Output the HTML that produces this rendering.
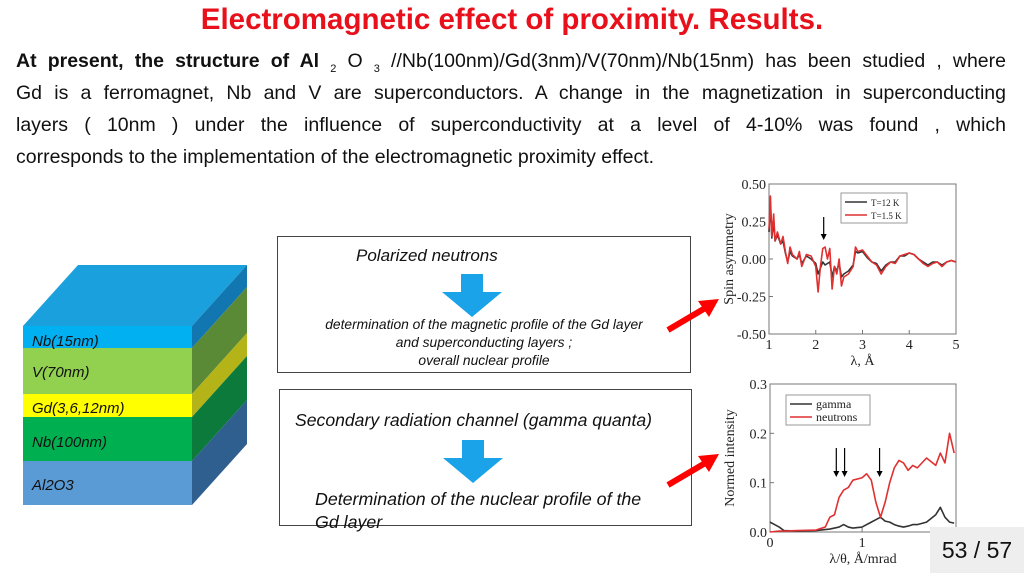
<!DOCTYPE html>
<html><head><meta charset="utf-8">
<style>
body{margin:0;width:1024px;height:574px;background:#fff;position:relative;overflow:hidden;font-family:"Liberation Sans",sans-serif;}
.abs{position:absolute;}
#title{left:0;width:1024px;top:3px;text-align:center;color:#e8101a;font-weight:bold;font-size:29.5px;}
.pl{position:absolute;left:16px;width:990px;font-size:19.5px;line-height:22px;text-align:justify;text-align-last:justify;color:#111;white-space:nowrap;}
.pl.last{text-align-last:left;}
sub{font-size:11px;line-height:0;vertical-align:baseline;position:relative;top:5px;}
.box{border:1px solid #444;}
.it{font-style:italic;color:#111;}
</style></head><body>
<div id="title" class="abs">Electromagnetic effect of proximity. Results.</div>
<div>
<div class="pl" style="top:50px"><b>At present, the structure of Al</b> <sub>2</sub> O <sub>3</sub> //Nb(100nm)/Gd(3nm)/V(70nm)/Nb(15nm) has been studied , where</div>
<div class="pl" style="top:82px">Gd is a ferromagnet, Nb and V are superconductors. A change in the magnetization in superconducting</div>
<div class="pl" style="top:114px">layers ( 10nm ) under the influence of superconductivity at a level of 4-10% was found , which</div>
<div class="pl last" style="top:146px">corresponds to the implementation of the electromagnetic proximity effect.</div>
</div>

<svg class="abs" style="left:0;top:250px" width="260" height="270">
<polygon points="23,76 78,15 247,15 192,76" fill="#1aa0dc"/>
<polygon points="192,76 247,15 247,37 192,98" fill="#1277b0"/>
<polygon points="192,98 247,37 247,83 192,144" fill="#5a8a35"/>
<polygon points="192,144 247,83 247,106 192,167" fill="#b4b418"/>
<polygon points="192,167 247,106 247,150 192,211" fill="#0b7a3a"/>
<polygon points="192,211 247,150 247,194 192,255" fill="#2f5f8f"/>
<rect x="23" y="76" width="169" height="22" fill="#00b0f0"/>
<rect x="23" y="98" width="169" height="46" fill="#92d050"/>
<rect x="23" y="144" width="169" height="23" fill="#ffff00"/>
<rect x="23" y="167" width="169" height="44" fill="#00b050"/>
<rect x="23" y="211" width="169" height="44" fill="#5b9bd5"/>
<g font-style="italic" font-size="15" fill="#111">
<text x="32" y="96">Nb(15nm)</text>
<text x="32" y="127">V(70nm)</text>
<text x="32" y="163">Gd(3,6,12nm)</text>
<text x="32" y="197">Nb(100nm)</text>
<text x="32" y="240">Al2O3</text>
</g></svg>

<div class="abs box" style="left:277px;top:236px;width:412px;height:135px">
<div class="abs it" style="left:78px;top:9px;font-size:17px">Polarized neutrons</div>
<svg class="abs" style="left:163px;top:37px" width="62" height="45"><polygon points="20,0 42,0 42,18 61,18 31,43 1,18 20,18" fill="#1aa3e8"/></svg>
<div class="abs it" style="left:0;width:412px;top:79px;font-size:13.8px;line-height:18px;text-align:center">determination of the magnetic profile of the Gd layer<br>and superconducting layers ;<br>overall nuclear profile</div>
</div>
<div class="abs box" style="left:279px;top:389px;width:411px;height:135px">
<div class="abs it" style="left:15px;top:20px;font-size:17.6px">Secondary radiation channel (gamma quanta)</div>
<svg class="abs" style="left:162px;top:50px" width="62" height="45"><polygon points="20,0 42,0 42,18 61,18 31,43 1,18 20,18" fill="#1aa3e8"/></svg>
<div class="abs it" style="left:35px;top:98px;font-size:17.8px;line-height:23px;white-space:nowrap">Determination of the nuclear profile of the<br>Gd layer</div>
</div>
<svg class="abs" style="left:665px;top:295px" width="60" height="45"><line x1="3" y1="35" x2="42" y2="12" stroke="#f00" stroke-width="6"/><polygon points="54,4 33,6 44,22" fill="#f00"/></svg>
<svg class="abs" style="left:665px;top:450px" width="60" height="45"><line x1="3" y1="35" x2="42" y2="12" stroke="#f00" stroke-width="6"/><polygon points="54,4 33,6 44,22" fill="#f00"/></svg>

<svg id="c1" class="abs" style="left:0;top:0" width="1024" height="574"></svg>

<div class="abs" style="left:930px;top:527px;width:94px;height:46px;background:#eee;font-size:23px;line-height:46px;text-align:center;color:#111">53 / 57</div>

<script>
const saX=[1.0,1.03,1.06,1.1,1.13,1.18,1.25,1.3,1.35,1.4,1.45,1.5,1.6,1.65,1.7,1.8,1.9,2.0,2.05,2.1,2.15,2.2,2.25,2.3,2.35,2.4,2.45,2.5,2.55,2.6,2.7,2.8,2.85,2.9,3.0,3.1,3.2,3.3,3.4,3.5,3.6,3.7,3.8,3.9,4.0,4.1,4.2,4.3,4.4,4.5,4.6,4.7,4.8,4.9,5.0];
const saRed=[0.2,0.42,0.15,0.3,0.12,0.18,0.1,0.15,0.05,-0.03,0.08,0.03,0.0,0.05,-0.05,0.03,0.02,-0.05,-0.22,-0.05,0.07,0.08,0.0,0.07,-0.2,-0.05,-0.1,0.0,-0.18,-0.12,-0.1,-0.05,0.08,0.05,0.06,0.02,-0.02,-0.04,-0.1,-0.05,-0.02,-0.03,0.02,0.03,0.04,0.03,0.0,-0.03,-0.05,-0.03,-0.02,-0.05,-0.02,-0.01,-0.02];
const saBlack=[0.18,0.38,0.14,0.25,0.12,0.16,0.1,0.12,0.04,-0.02,0.05,0.02,0.0,0.03,-0.03,0.02,0.0,-0.03,-0.1,-0.06,-0.02,-0.04,-0.03,-0.02,-0.12,-0.05,-0.08,-0.03,-0.12,-0.1,-0.08,-0.04,0.05,0.04,0.05,0.01,-0.02,-0.03,-0.08,-0.04,-0.02,-0.02,0.02,0.02,0.04,0.03,0.0,-0.02,-0.04,-0.02,-0.02,-0.04,-0.02,-0.01,-0.02];
const saXTicks=[1,2,3,4,5];
const saYTicks=["0.50","0.25","0.00","-0.25","-0.50"];
const niX=[0,0.05,0.1,0.15,0.3,0.5,0.6,0.65,0.7,0.75,0.8,0.85,0.9,1.0,1.05,1.1,1.15,1.2,1.25,1.3,1.35,1.4,1.45,1.5,1.55,1.6,1.7,1.8,1.85,1.9,1.95,2.0];
const niNeutrons=[0.0,0.001,0.002,0.002,0.003,0.004,0.01,0.03,0.035,0.07,0.085,0.09,0.105,0.11,0.118,0.105,0.06,0.03,0.06,0.1,0.13,0.145,0.14,0.125,0.135,0.13,0.15,0.135,0.16,0.14,0.2,0.16];
const niGamma=[0.02,0.015,0.01,0.003,0.002,0.003,0.005,0.006,0.008,0.01,0.015,0.01,0.008,0.01,0.015,0.02,0.025,0.03,0.022,0.02,0.015,0.012,0.01,0.012,0.015,0.015,0.02,0.035,0.05,0.03,0.02,0.018];
const niXTicks=[0,1];
const niYTicks=["0.3","0.2","0.1","0.0"];
const svg=document.getElementById('c1');
const NS='http://www.w3.org/2000/svg';
function mk(t,a){const e=document.createElementNS(NS,t);for(const k in a)e.setAttribute(k,a[k]);svg.appendChild(e);return e;}
function chart(L,R,T,B,x0,x1,y0,y1,xs,series,xt,yt,xlab,ylab,name){
 const sx=v=>L+(v-x0)/(x1-x0)*(R-L), sy=v=>B-(v-y0)/(y1-y0)*(B-T);
 let f=mk('rect',{x:L,y:T,width:R-L,height:B-T,fill:'none',stroke:'#777','stroke-width':1});
 
 
 xt.forEach(v=>{let t=mk('text',{x:sx(v),y:B+15,'font-family':'Liberation Serif','font-size':14,'text-anchor':'middle',fill:'#222'});t.textContent=v;
  
  
  mk('line',{x1:sx(v),x2:sx(v),y1:B,y2:B-4,stroke:'#777'});});
 yt.forEach(s=>{const v=parseFloat(s);let t=mk('text',{x:L-3,y:sy(v)+5,'font-family':'Liberation Serif','font-size':14,'text-anchor':'end',fill:'#222'});t.textContent=s;
  
  
  mk('line',{x1:L,x2:L+4,y1:sy(v),y2:sy(v),stroke:'#777'});});
 series.forEach(s=>{let p=mk('polyline',{points:xs.map((x,i)=>sx(x)+','+sy(s.v[i])).join(' '),fill:'none',stroke:s.c,'stroke-width':1.6,'stroke-linejoin':'round'});
  
  });
 let xl=mk('text',{x:(L+R)/2,y:B+31,'font-family':'Liberation Serif','font-size':14,'text-anchor':'middle',fill:'#222'});xl.textContent=xlab;
 
 
 let yl=mk('text',{x:0,y:0,'font-family':'Liberation Serif','font-size':14,'text-anchor':'middle',fill:'#222',transform:`translate(${L-36},${(T+B)/2}) rotate(-90)`});yl.textContent=ylab;
 
 
 return {sx,sy};
}
const a=chart(769,956,184,334,1,5,-0.5,0.5,saX,[{v:saBlack,c:'#333',n:'t12k'},{v:saRed,c:'#e03030',n:'t15k'}],saXTicks,saYTicks,'λ, Å','Spin asymmetry','spin-chart');
const b=chart(770,956,384,532,0,2.02,0,0.3,niX,[{v:niGamma,c:'#333',n:'gamma'},{v:niNeutrons,c:'#e03030',n:'neutrons'}],niXTicks,niYTicks,'λ/θ, Å/mrad','Normed intensity','intensity-chart');
function legend(x,y,items,name){
 let r=mk('rect',{x:x,y:y,width:items.w,height:30,fill:'#fff',stroke:'#999'});
 
 
 items.l.forEach((it,i)=>{mk('line',{x1:x+4,x2:x+26,y1:y+9+i*13,y2:y+9+i*13,stroke:it[1],'stroke-width':1.5});
  let t=mk('text',{x:x+30,y:y+13+i*13,'font-family':'Liberation Serif','font-size':items.fs,fill:'#222'});t.textContent=it[0];
  
  });
}
legend(841,193,{w:66,fs:9,l:[['T=12 K','#333'],['T=1.5 K','#e03030']]},'spin-legend');
legend(786,395,{w:84,fs:12,l:[['gamma','#333'],['neutrons','#e03030']]},'intensity-legend');
function arrow(x,y1,y2){mk('line',{x1:x,x2:x,y1:y1,y2:y2-5,stroke:'#000','stroke-width':1.2});mk('polygon',{points:`${x-3},${y2-6} ${x+3},${y2-6} ${x},${y2}`,fill:'#000'});}
arrow(a.sx(2.17),217,240);
arrow(b.sx(0.72),448,477);arrow(b.sx(0.81),448,477);arrow(b.sx(1.19),448,477);
</script>
</body></html>
